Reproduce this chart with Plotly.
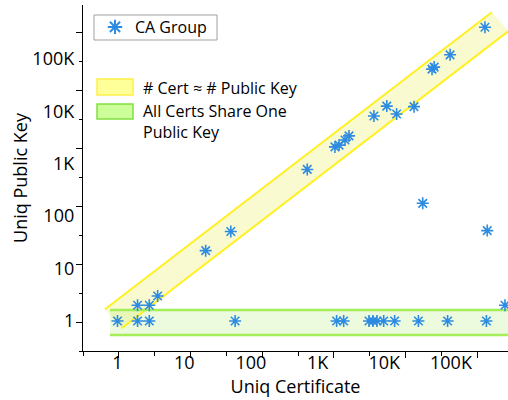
import plotly.graph_objects as go

# ---- data ----
cert_counts = [1, 2, 3, 2, 3, 4, 21, 50, 58,
               700, 1820, 2100, 2580, 2960, 7000, 10900, 15300, 27900,
               52000, 56000, 97000, 323000,
               37700, 350000, 645000,
               1930, 2460, 5900, 6760, 7770, 9800, 14300, 32500, 89000, 340000]
key_counts = [1, 1, 1, 2, 2, 3, 22, 51, 1,
              780, 2100, 2270, 2840, 3400, 8160, 12600, 8900, 12300,
              64000, 70000, 120000, 403000,
              176, 53, 2,
              1, 1, 1, 1, 1, 1, 1, 1, 1, 1]

tick_vals = [1, 10, 100, 1000, 10000, 100000]
tick_text = ["1", "10", "100", "1K", "10K", "100K"]

series_name = "CA Group"
band_labels = ["# Cert \u2248 # Public Key", "All Certs Share One<br>Public Key"]

# band geometry in log10 units: centre-line start/end and half-width offset
yellow_start = (-0.062, 0.042)
yellow_end = (5.737, 5.712)
yellow_half = (-0.125, 0.181)
green_x_log = (-0.112, 6.2)
green_y_log = (-0.267, 0.21)

FONT = "Open Sans"
BLUE = "rgb(45,140,225)"

def p10(v):
    return 10 ** v

A = (yellow_start[0] + yellow_half[0], yellow_start[1] + yellow_half[1])
B = (yellow_start[0] - yellow_half[0], yellow_start[1] - yellow_half[1])
C = (yellow_end[0] + yellow_half[0], yellow_end[1] + yellow_half[1])
D = (yellow_end[0] - yellow_half[0], yellow_end[1] - yellow_half[1])

fig = go.Figure()

# yellow band fill
fig.add_trace(go.Scatter(
    x=[p10(A[0]), p10(C[0]), p10(D[0]), p10(B[0]), p10(A[0])],
    y=[p10(A[1]), p10(C[1]), p10(D[1]), p10(B[1]), p10(A[1])],
    mode="lines", fill="toself", fillcolor="rgba(240,240,120,0.35)",
    line=dict(width=0), hoverinfo="skip", showlegend=False))
# green band fill
gx0, gx1 = p10(green_x_log[0]), p10(green_x_log[1])
gy0, gy1 = p10(green_y_log[0]), p10(green_y_log[1])
fig.add_trace(go.Scatter(
    x=[gx0, gx1, gx1, gx0, gx0], y=[gy0, gy0, gy1, gy1, gy0],
    mode="lines", fill="toself", fillcolor="rgba(180,235,120,0.25)",
    line=dict(width=0), hoverinfo="skip", showlegend=False))
# yellow edges
fig.add_trace(go.Scatter(
    x=[p10(A[0]), p10(C[0]), None, p10(B[0]), p10(D[0])],
    y=[p10(A[1]), p10(C[1]), None, p10(B[1]), p10(D[1])],
    mode="lines", line=dict(color="#FFF020", width=2),
    hoverinfo="skip", showlegend=False))
# green edges
fig.add_trace(go.Scatter(
    x=[gx0, gx1, None, gx0, gx1], y=[gy0, gy0, None, gy1, gy1],
    mode="lines", line=dict(color="#A4EE5A", width=2.5),
    hoverinfo="skip", showlegend=False))

# data points
fig.add_trace(go.Scatter(
    x=cert_counts, y=key_counts, mode="markers", name=series_name,
    marker=dict(symbol="asterisk-open", size=10, color=BLUE,
                line=dict(color=BLUE, width=1.6))))

# empty trace for the tick-mark overlay axes
fig.add_trace(go.Scatter(x=[], y=[], xaxis="x2", yaxis="y2",
                         showlegend=False, hoverinfo="skip"))

W, H = 508, 400
ml, mr, mt, mb = 83, 0, 5, 49
pw, ph = W - ml - mr, H - mt - mb

def px_x(px):
    return (px - ml) / pw

def px_y(py):
    return (H - mb - py) / ph

shapes = [
    dict(type="rect", xref="paper", yref="paper",
         x0=px_x(94), x1=px_x(217), y0=px_y(40), y1=px_y(15),
         fillcolor="white", line=dict(color="#A0A0A0", width=1), layer="below"),
    dict(type="rect", xref="paper", yref="paper",
         x0=px_x(97), x1=px_x(133), y0=px_y(95), y1=px_y(79),
         fillcolor="#FFFF99", line=dict(color="#FFF04A", width=1.5)),
    dict(type="rect", xref="paper", yref="paper",
         x0=px_x(97), x1=px_x(133), y0=px_y(119), y1=px_y(104),
         fillcolor="#CCFF99", line=dict(color="#80E040", width=1.5)),
]
annotations = [
    dict(xref="paper", yref="paper", x=px_x(141), y=px_y(88), text=band_labels[0],
         showarrow=False, xanchor="left", yanchor="middle", align="left",
         font=dict(family=FONT, size=16, color="black")),
    dict(xref="paper", yref="paper", x=px_x(141), y=px_y(122), text=band_labels[1],
         showarrow=False, xanchor="left", yanchor="middle", align="left",
         font=dict(family=FONT, size=16, color="black")),
]

fig.update_layout(
    width=W, height=H,
    margin=dict(l=ml, r=mr, t=mt, b=mb, autoexpand=False),
    paper_bgcolor="white", plot_bgcolor="white",
    font=dict(family=FONT, size=18, color="black"),
    showlegend=True,
    legend=dict(x=px_x(95), y=px_y(10), xanchor="left", yanchor="top",
                borderwidth=0, bgcolor="rgba(0,0,0,0)",
                font=dict(family=FONT, size=16), itemsizing="constant",
                tracegroupgap=0),
    xaxis=dict(type="log", range=[-0.517, 5.855], tickvals=tick_vals,
               ticktext=tick_text, ticks="", showgrid=False, zeroline=False,
               showline=True, linecolor="black", linewidth=1.3,
               automargin=False,
               tickfont=dict(size=18), ticklabelstandoff=-5,
               title=dict(text="Uniq Certificate", font=dict(size=18), standoff=0)),
    yaxis=dict(type="log", range=[-0.573, 6.03], tickvals=tick_vals,
               ticktext=tick_text, ticks="", showgrid=False, zeroline=False,
               showline=True, linecolor="black", linewidth=1.3,
               automargin=False,
               tickfont=dict(size=18), ticklabelstandoff=4,
               title=dict(text="Uniq Public Key", font=dict(size=18), standoff=0)),
    xaxis2=dict(overlaying="x", anchor="y2", range=[0, pw], showgrid=False,
                zeroline=False, showline=False, showticklabels=False,
                automargin=False,
                ticks="outside", tick0=35.85, dtick=71.7, ticklen=6,
                tickwidth=1.3, tickcolor="black",
                minor=dict(ticks="outside", tick0=0, dtick=35.85, ticklen=3.5,
                           tickwidth=1.2, tickcolor="black", showgrid=False)),
    yaxis2=dict(overlaying="y", anchor="x2", range=[0, ph], showgrid=False,
                zeroline=False, showline=False, showticklabels=False,
                automargin=False,
                ticks="outside", tick0=29, dtick=58, ticklen=6,
                tickwidth=1.3, tickcolor="black",
                minor=dict(ticks="outside", tick0=0, dtick=29, ticklen=3.5,
                           tickwidth=1.2, tickcolor="black", showgrid=False)),
    shapes=shapes,
    annotations=annotations,
)

fig.write_html("out.html",
               config={"displayModeBar": False},
               post_script="document.body.style.margin='0';document.body.style.padding='0';")
